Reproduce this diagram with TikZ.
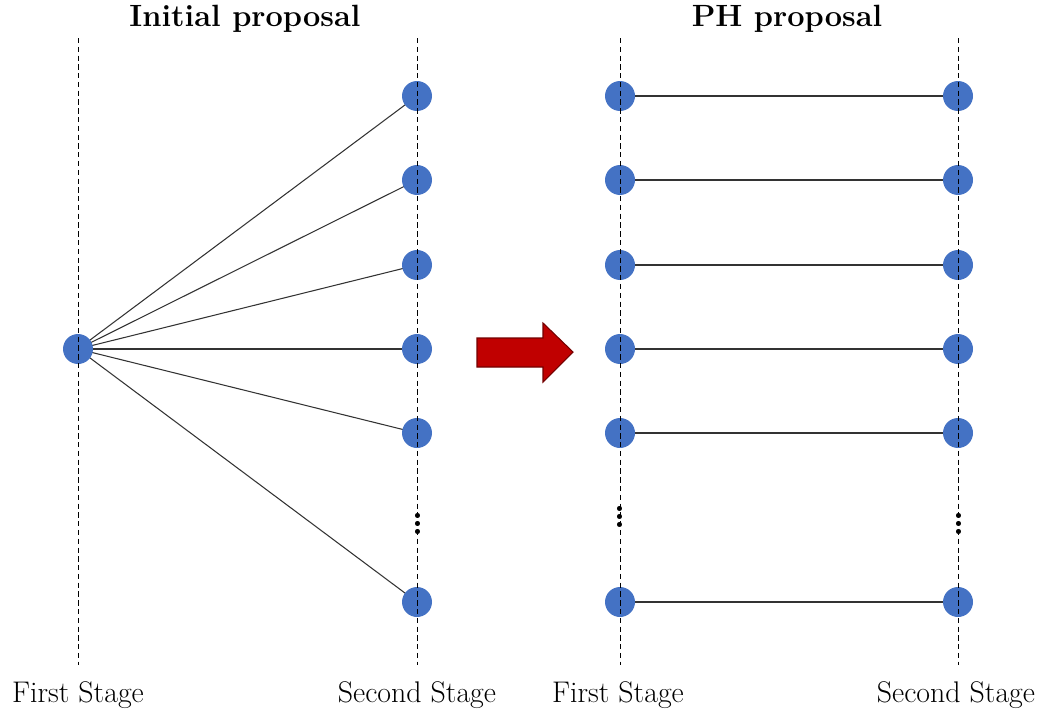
\documentclass[tikz,border=0pt]{standalone}
\usetikzlibrary{positioning, backgrounds}
\definecolor{nodeblue}{HTML}{4472C4}
\definecolor{arrowred}{HTML}{C00000}

\begin{document}
\begin{tikzpicture}[x=0.02cm, y=-0.02cm,
    stage/.style={circle, fill=nodeblue, minimum size=0.6cm, inner sep=0pt},
    link/.style={draw=black!80, line width=0.6pt},
    axis/.style={dash pattern=on 3pt off 2pt, line width=0.5pt},
    more/.style={inner sep=0pt, align=center, font=\fontsize{20}{4.8}\selectfont\bfseries},
    title/.style={font=\fontsize{17.5}{20}\selectfont\bfseries},
    lbl/.style={font=\fontsize{17}{19}\selectfont}]
\useasboundingbox (0,0) rectangle (1042,717);

%% Initial proposal
\node[stage] (S) at (78,349) {};
\foreach \i/\y in {1/96,2/180,3/265,4/349,5/433,6/602}
  \node[stage] (a\i) at (417,\y) {};
\begin{scope}[on background layer]
\foreach \i in {1,...,6}
  \draw[link] (S.center) -- (a\i.center);
\end{scope}

%% PH proposal
\foreach \i/\y in {1/96,2/180,3/265,4/349,5/433,6/602} {
  \node[stage] (p\i) at (620,\y) {};
  \node[stage] (q\i) at (958,\y) {};
  \draw[link] (p\i) -- (q\i);
}

%% stage axes
\foreach \n/\x in {ft/78,st/417,fb/620,sb/958} {
  \coordinate (\n top) at (\x,38);
  \coordinate (\n bot) at (\x,665);
  \draw[axis] (\n top) -- (\n bot);
}
\node[more] (adots) at (418,524) {.\\.\\.};
\node[more] (pdots) at (620,517) {.\\.\\.};
\node[more] (qdots) at (959,524) {.\\.\\.};

%% titles and labels
\node[title] (t1) at (245,19) {Initial proposal};
\node[title] (t2) at (787,19) {PH proposal};
\node[lbl] (l1) at (78,695) {First Stage};
\node[lbl] (l2) at (417,695) {Second Stage};
\node[lbl] (l3) at (618,695) {First Stage};
\node[lbl] (l4) at (956,695) {Second Stage};

%% big arrow
\filldraw[fill=arrowred, draw=arrowred!60!black, line width=0.6pt]
  (477,338) -- (543,338) -- (543,323) -- (573,352) -- (543,382)
  -- (543,367) -- (477,367) -- cycle;
\end{tikzpicture}
\end{document}
